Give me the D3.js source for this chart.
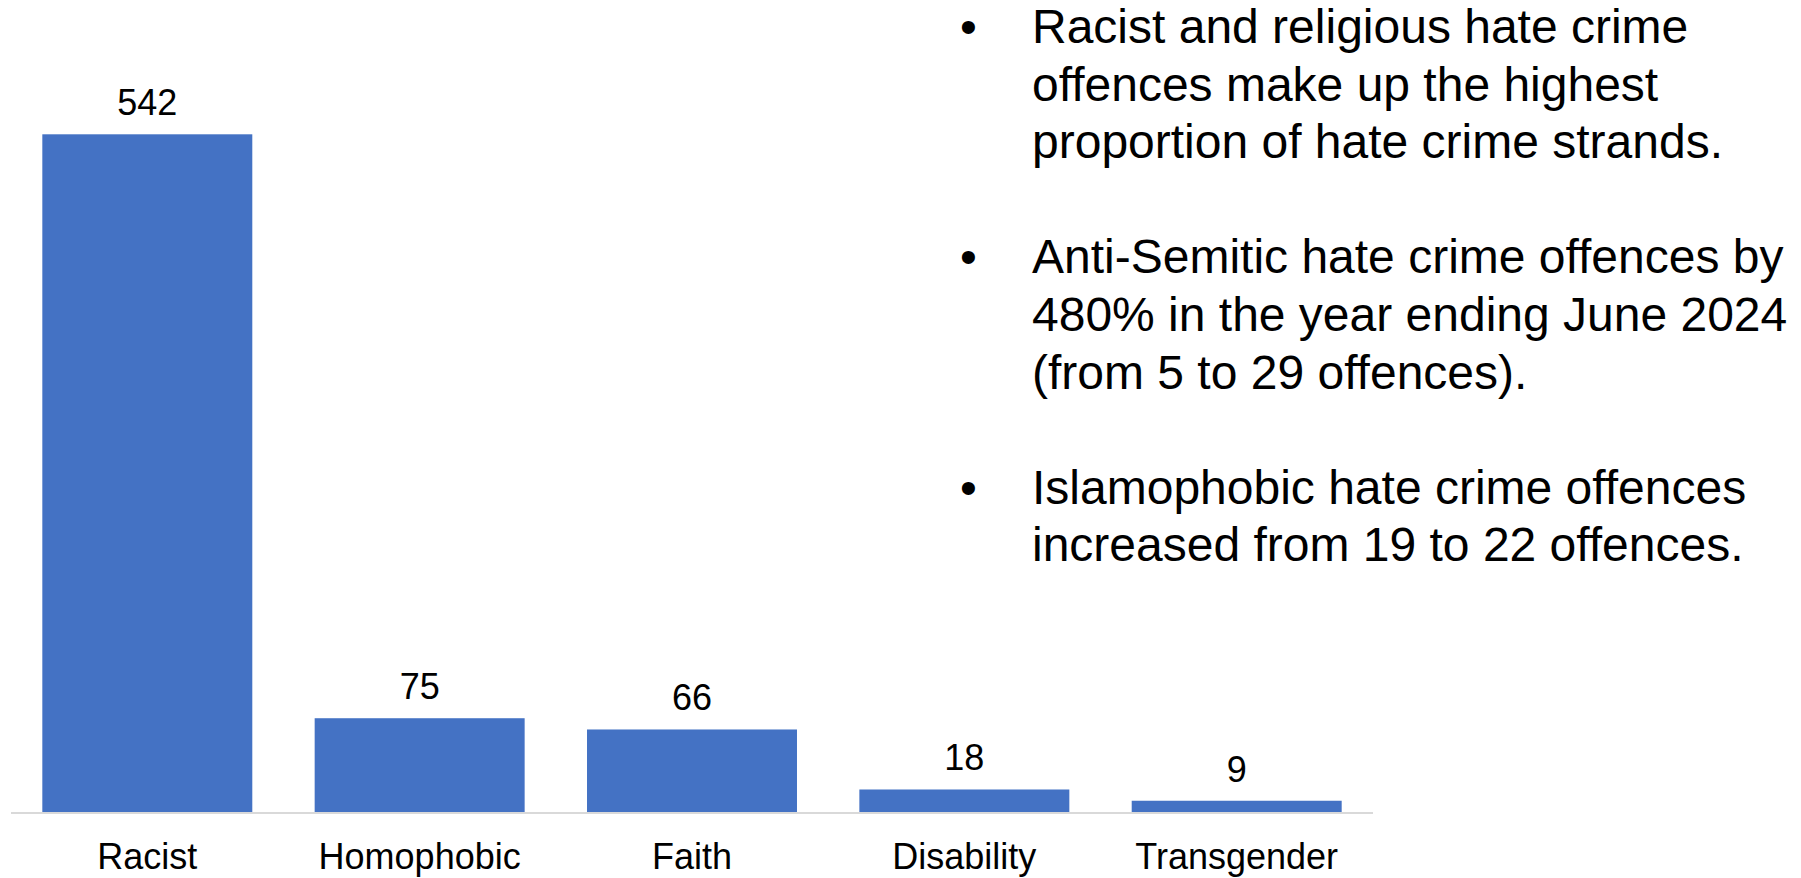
<!DOCTYPE html>
<html>
<head>
<meta charset="utf-8">
<script src="https://cdn.jsdelivr.net/npm/d3@7"></script>
<style>
  body { margin: 0; background: #fff; }
  svg { display: block; font-family: "Liberation Sans", Arial, sans-serif; }
</style>
</head>
<body>
<svg id="chart" width="1801" height="878"></svg>
<script>
// chart data
var categories = ["Racist", "Homophobic", "Faith", "Disability", "Transgender"];
var offences = [542, 75, 66, 18, 9];

// notes on the right, one array per bullet (already wrapped)
var bullet1 = ["Racist and religious hate crime", "offences make up the highest", "proportion of hate crime strands."];
var bullet2 = ["Anti-Semitic hate crime offences by", "480% in the year ending June 2024", "(from 5 to 29 offences)."];
var bullet3 = ["Islamophobic hate crime offences", "increased from 19 to 22 offences."];

var svg = d3.select("svg#chart");

// plot area
var x0 = 11, x1 = 1373, baseY = 812, topY = 134.3;

var x = d3.scaleBand()
    .domain(categories)
    .range([x0, x1])
    .paddingInner(0.229)
    .paddingOuter(0.115);

var y = d3.scaleLinear()
    .domain([0, d3.max(offences)])
    .range([baseY, topY]);

var data = categories.map(function(c, i) { return {cat: c, val: offences[i]}; });

// bars
svg.append("g").selectAll("rect")
    .data(data)
  .enter().append("rect")
    .attr("x", function(d) { return x(d.cat); })
    .attr("y", function(d) { return y(d.val); })
    .attr("width", x.bandwidth())
    .attr("height", function(d) { return baseY - y(d.val); })
    .attr("fill", "#4472c4");

// value labels
svg.append("g").selectAll("text")
    .data(data)
  .enter().append("text")
    .attr("x", function(d) { return x(d.cat) + x.bandwidth() / 2; })
    .attr("y", function(d) { return y(d.val) - 19; })
    .attr("text-anchor", "middle")
    .style("font-size", "36px")
    .attr("fill", "#000")
    .text(function(d) { return d.val; });

// x axis: just the baseline and the category names
var xAxis = svg.append("g")
    .attr("transform", "translate(0," + baseY + ")")
    .call(d3.axisBottom(x).tickSize(0).tickPadding(57));

xAxis.select(".domain")
    .attr("stroke", "#d9d9d9")
    .attr("stroke-width", 2)
    .attr("d", "M" + x0 + ",1H" + x1);

xAxis.selectAll("text")
    .attr("dy", 0)
    .style("font-size", "36px")
    .style("font-family", "Liberation Sans, Arial, sans-serif")
    .attr("fill", "#000");

// bullet notes
var notes = [bullet1, bullet2, bullet3];
var lineH = 57.6, firstBase = 43, lineNo = 0;
var noteG = svg.append("g").style("font-size", "48px").attr("fill", "#000");

notes.forEach(function(lines) {
  noteG.append("text")
      .attr("x", 960)
      .attr("y", firstBase + lineNo * lineH)
      .text("\u2022");
  lines.forEach(function(t) {
    noteG.append("text")
        .attr("x", 1032)
        .attr("y", firstBase + lineNo * lineH)
        .text(t);
    lineNo++;
  });
  lineNo++; // blank line between bullets
});
</script>
</body>
</html>
